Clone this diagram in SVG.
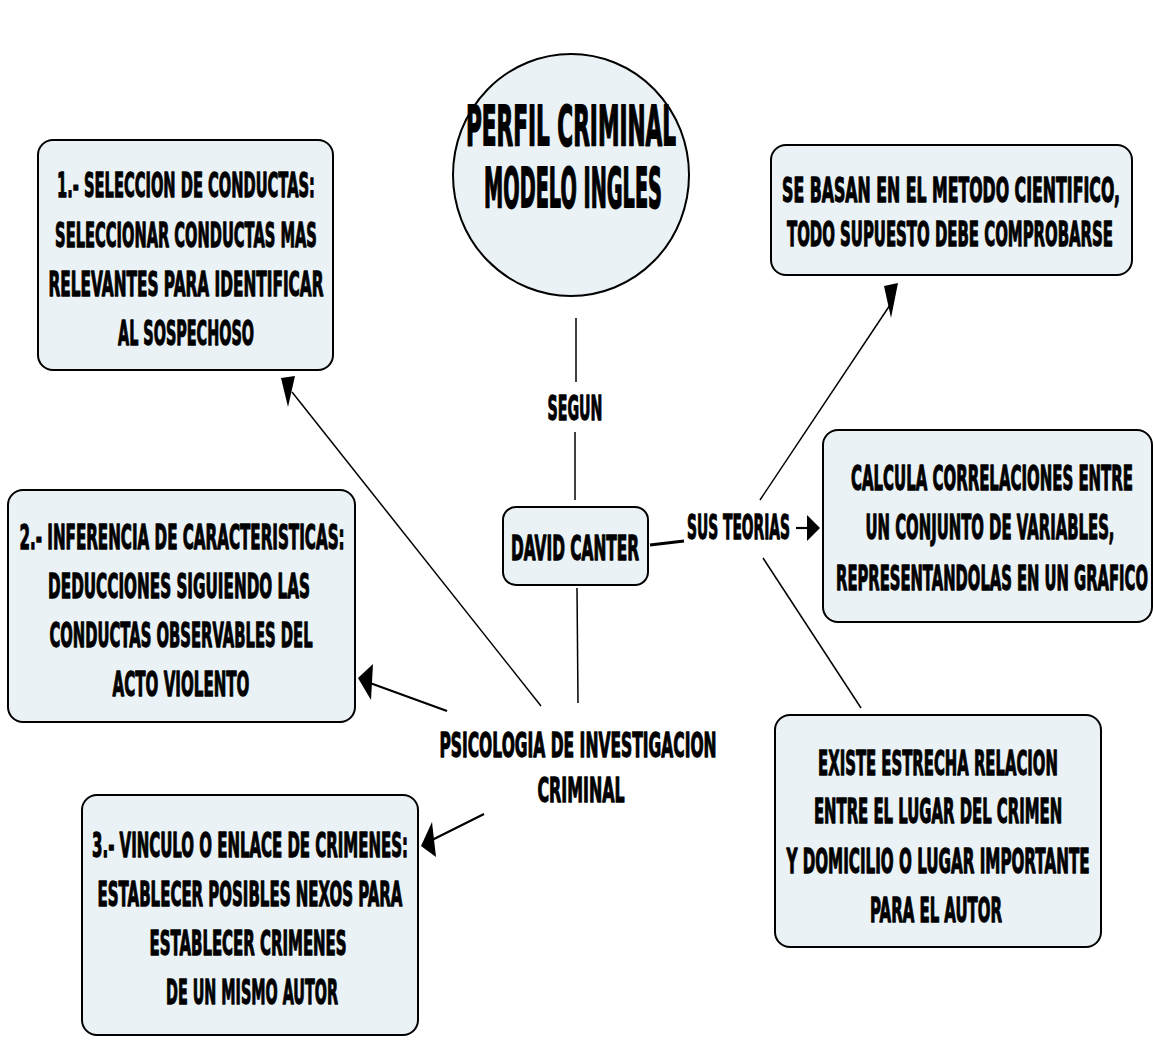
<svg xmlns="http://www.w3.org/2000/svg" width="1153" height="1046" viewBox="0 0 1153 1046">
<defs>
<style>
.box{fill:#EAF2F5;stroke:#000;stroke-width:2}
.t{font-family:"DejaVu Sans","Liberation Sans",sans-serif;font-weight:bold;font-size:34px;fill:#000;stroke:#000;stroke-width:1.3;stroke-linejoin:round;text-anchor:middle}
.big{font-size:56px;stroke-width:1.8}
.ln{stroke:#000;stroke-width:1.5;fill:none}
.al{stroke:#000;stroke-width:2.2;fill:none}
.ah{fill:#000;stroke:none}
</style>
</defs>
<rect width="1153" height="1046" fill="#fff"/>
<g id="connectors">
<line class="ln" x1="576" y1="318" x2="576" y2="382"/>
<line class="ln" x1="575" y1="432" x2="575" y2="500"/>
<line class="ln" x1="577" y1="588" x2="578" y2="703"/>
<line x1="650" y1="545" x2="684" y2="541" stroke="#000" stroke-width="3"/>
<line class="al" x1="796" y1="528" x2="809" y2="528"/>
<polygon class="ah" points="807,515 820,528 807,541"/>
<line class="ln" x1="760" y1="500" x2="890" y2="305"/>
<polygon class="ah" points="884,286 898,283 891,318"/>
<line class="ln" x1="763" y1="558" x2="861" y2="708"/>
<line class="ln" x1="541" y1="706" x2="292" y2="392"/>
<polygon class="ah" points="281,378 295,376 288,407"/>
<line class="al" x1="447" y1="711" x2="370" y2="683"/>
<polygon class="ah" points="358,678 373,664 371,700"/>
<line class="al" x1="484" y1="814" x2="432" y2="840"/>
<polygon class="ah" points="421,846 432,822 436,857"/>
<text class="t" transform="translate(575,420) scale(0.44,1)" textLength="125" lengthAdjust="spacingAndGlyphs">SEGUN</text>
<text class="t" transform="translate(738.5,539) scale(0.44,1)" textLength="234" lengthAdjust="spacingAndGlyphs">SUS TEORIAS</text>
<text class="t" transform="translate(578,757) scale(0.44,1)" textLength="630" lengthAdjust="spacingAndGlyphs">PSICOLOGIA DE INVESTIGACION</text>
<text class="t" transform="translate(581,802) scale(0.44,1)" textLength="198" lengthAdjust="spacingAndGlyphs">CRIMINAL</text>
</g>
<g id="perfil">
<ellipse class="box" cx="571" cy="175" rx="118" ry="121" stroke-width="1.5"/>
<text class="t big" transform="translate(571,145) scale(0.38,1)" textLength="553" lengthAdjust="spacingAndGlyphs">PERFIL CRIMINAL</text>
<text class="t big" transform="translate(573,207) scale(0.38,1)" textLength="468" lengthAdjust="spacingAndGlyphs">MODELO INGLES</text>
</g>
<g id="david">
<rect class="box" x="503" y="507" width="145" height="78" rx="13"/>
<text class="t" transform="translate(575,560) scale(0.44,1)" textLength="291" lengthAdjust="spacingAndGlyphs">DAVID CANTER</text>
</g>
<g id="box1">
<rect class="box" x="38" y="140" width="295" height="230" rx="15"/>
<text class="t" transform="translate(186,197) scale(0.44,1)" textLength="586" lengthAdjust="spacingAndGlyphs">1.- SELECCION DE CONDUCTAS:</text>
<text class="t" transform="translate(186,247) scale(0.44,1)" textLength="595" lengthAdjust="spacingAndGlyphs">SELECCIONAR CONDUCTAS MAS</text>
<text class="t" transform="translate(186,296) scale(0.44,1)" textLength="625" lengthAdjust="spacingAndGlyphs">RELEVANTES PARA IDENTIFICAR</text>
<text class="t" transform="translate(186,345) scale(0.44,1)" textLength="309" lengthAdjust="spacingAndGlyphs">AL SOSPECHOSO</text>
</g>
<g id="box2">
<rect class="box" x="8" y="490" width="347" height="232" rx="15"/>
<text class="t" transform="translate(182,549) scale(0.44,1)" textLength="739" lengthAdjust="spacingAndGlyphs">2.- INFERENCIA DE CARACTERISTICAS:</text>
<text class="t" transform="translate(179,598) scale(0.44,1)" textLength="595" lengthAdjust="spacingAndGlyphs">DEDUCCIONES SIGUIENDO LAS</text>
<text class="t" transform="translate(181,647) scale(0.44,1)" textLength="598" lengthAdjust="spacingAndGlyphs">CONDUCTAS OBSERVABLES DEL</text>
<text class="t" transform="translate(181,696) scale(0.44,1)" textLength="311" lengthAdjust="spacingAndGlyphs">ACTO VIOLENTO</text>
</g>
<g id="box3">
<rect class="box" x="82" y="795" width="336" height="240" rx="15"/>
<text class="t" transform="translate(250,857) scale(0.44,1)" textLength="718" lengthAdjust="spacingAndGlyphs">3.- VINCULO O ENLACE DE CRIMENES:</text>
<text class="t" transform="translate(250,906) scale(0.44,1)" textLength="693" lengthAdjust="spacingAndGlyphs">ESTABLECER POSIBLES NEXOS PARA</text>
<text class="t" transform="translate(248,955) scale(0.44,1)" textLength="448" lengthAdjust="spacingAndGlyphs">ESTABLECER CRIMENES</text>
<text class="t" transform="translate(252,1004) scale(0.44,1)" textLength="391" lengthAdjust="spacingAndGlyphs">DE UN MISMO AUTOR</text>
</g>
<g id="metodo">
<rect class="box" x="771" y="145" width="361" height="130" rx="15"/>
<text class="t" transform="translate(951,202) scale(0.44,1)" textLength="768" lengthAdjust="spacingAndGlyphs">SE BASAN EN EL METODO CIENTIFICO,</text>
<text class="t" transform="translate(950,246) scale(0.44,1)" textLength="741" lengthAdjust="spacingAndGlyphs">TODO SUPUESTO DEBE COMPROBARSE</text>
</g>
<g id="calcula">
<rect class="box" x="823" y="430" width="329" height="192" rx="15"/>
<text class="t" transform="translate(992,490) scale(0.44,1)" textLength="641" lengthAdjust="spacingAndGlyphs">CALCULA CORRELACIONES ENTRE</text>
<text class="t" transform="translate(990,539) scale(0.44,1)" textLength="566" lengthAdjust="spacingAndGlyphs">UN CONJUNTO DE VARIABLES,</text>
<text class="t" transform="translate(992,590) scale(0.44,1)" textLength="709" lengthAdjust="spacingAndGlyphs">REPRESENTANDOLAS EN UN GRAFICO</text>
</g>
<g id="existe">
<rect class="box" x="775" y="715" width="326" height="232" rx="15"/>
<text class="t" transform="translate(938,775) scale(0.44,1)" textLength="545" lengthAdjust="spacingAndGlyphs">EXISTE ESTRECHA RELACION</text>
<text class="t" transform="translate(938,823) scale(0.44,1)" textLength="564" lengthAdjust="spacingAndGlyphs">ENTRE EL LUGAR DEL CRIMEN</text>
<text class="t" transform="translate(938,873) scale(0.44,1)" textLength="689" lengthAdjust="spacingAndGlyphs">Y DOMICILIO O LUGAR IMPORTANTE</text>
<text class="t" transform="translate(936,922) scale(0.44,1)" textLength="300" lengthAdjust="spacingAndGlyphs">PARA EL AUTOR</text>
</g>
</svg>
